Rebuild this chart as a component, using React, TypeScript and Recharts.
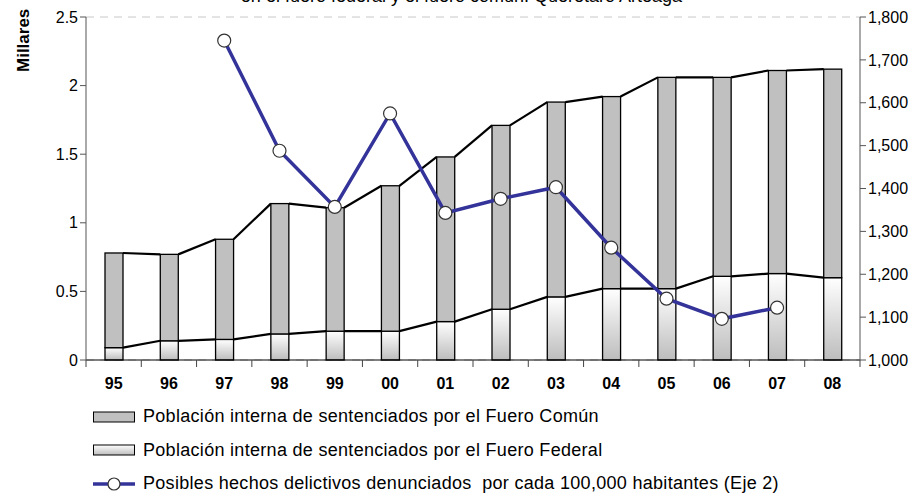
import { ComposedChart, Bar, Line, XAxis, YAxis, CartesianGrid } from "recharts";

const years = ["95", "96", "97", "98", "99", "00", "01", "02", "03", "04", "05", "06", "07", "08"];
// miles de internos
const federal = [0.09, 0.14, 0.15, 0.19, 0.21, 0.21, 0.28, 0.37, 0.46, 0.52, 0.52, 0.61, 0.63, 0.6];
const comun = [0.69, 0.63, 0.73, 0.95, 0.9, 1.06, 1.2, 1.34, 1.42, 1.4, 1.54, 1.45, 1.48, 1.52];
// hechos delictivos por cada 100,000 habitantes (eje 2)
const delitos = [null, null, 1745, 1488, 1357, 1575, 1343, 1376, 1403, 1262, 1143, 1096, 1122, null];

const leftTicks = [0, 0.5, 1, 1.5, 2, 2.5];
const rightTicks = [1000, 1100, 1200, 1300, 1400, 1500, 1600, 1700, 1800];

const data = years.map((y, i) => ({
  year: y,
  federal: federal[i],
  comun: comun[i],
  delitos: delitos[i],
}));

const W = 923;
const H = 496;
const LEFT_W = 86;
const RIGHT_W = 63;
const TOP = 17;
const AXIS_Y = 360;
const STEP = (W - LEFT_W - RIGHT_W) / years.length;
const FONT = "'Liberation Sans', Arial, sans-serif";

// bar with the excel-like "series line" to the next bar
const FederalBar = (props: any) => {
  const { x, y, width, height, index } = props;
  const k = height / federal[index];
  const next = federal[index + 1];
  return (
    <g>
      <rect x={x} y={y} width={width} height={height} fill="url(#gradFed)" stroke="#000" strokeWidth={1.3} />
      {next != null && (
        <line x1={x + width} y1={y} x2={x + STEP} y2={y + height - next * k} stroke="#000" strokeWidth={2.2} />
      )}
    </g>
  );
};

const ComunBar = (props: any) => {
  const { x, y, width, height, index } = props;
  const k = height / comun[index];
  const base = y + height + federal[index] * k;
  const hasNext = index + 1 < comun.length;
  const nextTop = hasNext ? base - (federal[index + 1] + comun[index + 1]) * k : 0;
  return (
    <g>
      <rect x={x} y={y} width={width} height={height} fill="#C0C0C0" stroke="#000" strokeWidth={1.3} />
      {hasNext && <line x1={x + width} y1={y} x2={x + STEP} y2={nextTop} stroke="#000" strokeWidth={2.2} />}
    </g>
  );
};

const YearTick = (props: any) => {
  const { x, payload, index } = props;
  const i = index ?? payload.index;
  return (
    <g>
      <line x1={x - STEP / 2} y1={AXIS_Y} x2={x - STEP / 2} y2={AXIS_Y + 7} stroke="#444" />
      {i === years.length - 1 && (
        <line x1={x + STEP / 2} y1={AXIS_Y} x2={x + STEP / 2} y2={AXIS_Y + 7} stroke="#444" />
      )}
      <text x={x} y={AXIS_Y + 29} textAnchor="middle" fontFamily={FONT} fontSize={16} fontWeight="bold" fill="#000">
        {payload.value}
      </text>
    </g>
  );
};

const legendItems = [
  { label: "Población interna de sentenciados por el Fuero Común", kind: "comun" },
  { label: "Población interna de sentenciados por el Fuero Federal", kind: "federal" },
  { label: "Posibles hechos delictivos denunciados  por cada 100,000 habitantes (Eje 2)", kind: "line" },
];

export default function App() {
  return (
    <div style={{ position: "absolute", left: 0, top: 0, width: W, height: H, overflow: "hidden", background: "#fff" }}>
      <div
        style={{
          position: "absolute",
          top: -14,
          left: 0,
          width: W,
          textAlign: "center",
          fontFamily: FONT,
          fontSize: 18,
          whiteSpace: "nowrap",
        }}
      >
        en el fuero federal y el fuero común. Querétaro Arteaga
      </div>
      <ComposedChart
        width={W}
        height={H}
        data={data}
        margin={{ top: TOP, right: 0, bottom: 0, left: 0 }}
        barSize={18}
      >
        <defs>
          <linearGradient id="gradFed" x1="0" y1="0" x2="0" y2="1">
            <stop offset="0%" stopColor="#FFFFFF" />
            <stop offset="100%" stopColor="#BDBDBD" />
          </linearGradient>
        </defs>
        <CartesianGrid vertical={false} stroke="#C8C8C8" strokeDasharray="8 6" />
        <XAxis
          dataKey="year"
          height={H - AXIS_Y}
          axisLine={{ stroke: "#000", strokeWidth: 1 }}
          tickLine={false}
          tick={<YearTick />}
          interval={0}
        />
        <YAxis
          yAxisId="left"
          width={LEFT_W}
          domain={[0, 2.5]}
          ticks={leftTicks}
          axisLine={{ stroke: "#555" }}
          tickLine={{ stroke: "#555" }}
          tick={{ fontFamily: FONT, fontSize: 16, fill: "#000" }}
          label={{
            value: "Millares",
            angle: -90,
            position: "insideTopLeft",
            dx: 12,
            dy: 50,
            style: { fontFamily: FONT, fontSize: 17, fontWeight: "bold", fill: "#000" },
          }}
        />
        <YAxis
          yAxisId="right"
          orientation="right"
          width={RIGHT_W}
          domain={[1000, 1800]}
          ticks={rightTicks}
          axisLine={{ stroke: "#555" }}
          tickLine={{ stroke: "#555" }}
          tick={{ fontFamily: FONT, fontSize: 16, fill: "#000" }}
          tickFormatter={(v: number) => v.toLocaleString("en-US")}
        />
        <Bar yAxisId="left" dataKey="federal" stackId="a" shape={<FederalBar />} isAnimationActive={false} />
        <Bar yAxisId="left" dataKey="comun" stackId="a" shape={<ComunBar />} isAnimationActive={false} />
        <Line
          yAxisId="right"
          dataKey="delitos"
          stroke="#333399"
          strokeWidth={3.5}
          dot={{ r: 6.5, fill: "#fff", stroke: "#333", strokeWidth: 1.2 }}
          isAnimationActive={false}
        />
      </ComposedChart>
      <div style={{ position: "absolute", left: 93, top: 400, fontFamily: FONT, fontSize: 18, letterSpacing: 0.3 }}>
        {legendItems.map((it) => (
          <div key={it.kind} style={{ display: "flex", alignItems: "center", height: 33.5 }}>
            <svg width={50} height={20} style={{ flex: "none" }}>
              {it.kind === "line" ? (
                <g>
                  <line x1={0} y1={10} x2={42} y2={10} stroke="#333399" strokeWidth={3.5} />
                  <circle cx={21} cy={10} r={6} fill="#fff" stroke="#333" strokeWidth={1.2} />
                </g>
              ) : (
                <rect
                  x={0.5}
                  y={5}
                  width={41}
                  height={10}
                  fill={it.kind === "comun" ? "#C0C0C0" : "url(#gradLeg)"}
                  stroke="#000"
                />
              )}
              <defs>
                <linearGradient id="gradLeg" x1="0" y1="0" x2="0" y2="1">
                  <stop offset="0%" stopColor="#FFFFFF" />
                  <stop offset="100%" stopColor="#BDBDBD" />
                </linearGradient>
              </defs>
            </svg>
            <span style={{ whiteSpace: "pre" }}>{it.label}</span>
          </div>
        ))}
      </div>
    </div>
  );
}
